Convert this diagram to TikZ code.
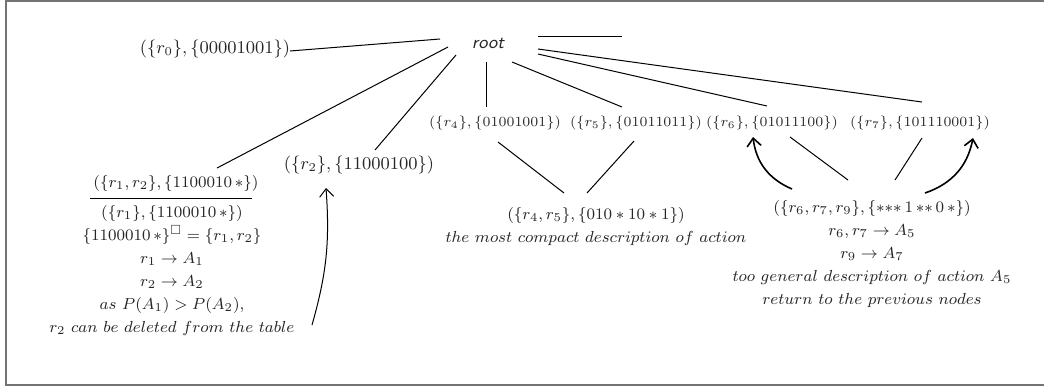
\documentclass[tikz,border=0pt]{standalone}
\usepackage{amsmath}
\usepackage{amssymb}
\usepackage{tikz}
\usetikzlibrary{arrows.meta,positioning}

\begin{document}
\begin{tikzpicture}[
    x=0.5pt, y=-0.5pt,
    node distance=40pt,
    >={Straight Barb[length=4pt,width=7pt]},
    font=\fontsize{8}{11.5}\selectfont,
    pair/.style={
		inner sep=0pt,
		text=black!85
	},
    bigpair/.style={
		pair,
		font=\fontsize{8.8}{11.5}\selectfont
	},
    midpair/.style={
		pair,
		font=\fontsize{7.2}{11.5}\selectfont
	},
    smallpair/.style={
		pair,
		font=\fontsize{7.2}{11.5}\selectfont
	},
    link/.style={
		line width=0.5pt
	},
    backarc/.style={
		->,
		line width=0.8pt
	},
    border/.style={
		draw=black!55,
		line width=1pt
	}
  ]
  \useasboundingbox (0,0) rectangle (1044,387);
  \draw [border] (1044,1) -- (6,1) -- (6,385) -- (1044,385);

    % We start by placing the blocks
  \node [pair, font=\sffamily\itshape\fontsize{9}{11}\selectfont] (root) at (488,43) {root};

  \node [bigpair, left of=root, xshift=-96.5pt, yshift=-3pt] (r0) {$(\{r_0\},\{00001001\})$};

  \node [midpair, below of=root, xshift=3.5pt] (r4) {$(\{r_4\},\{01001001\})$};
  \node [midpair, below of=root, xshift=74pt] (r5) {$(\{r_5\},\{01011011\})$};
  \node [smallpair, below of=root, xshift=142pt] (r6) {$(\{r_6\},\{01011100\})$};
  \node [smallpair, below of=root, xshift=216pt] (r7) {$(\{r_7\},\{101110001\})$};

  \node [bigpair, below of=r4, xshift=-68pt, yshift=19pt] (r2) {$(\{r_2\},\{11000100\})$};

  \node [pair, below of=r0, xshift=-19.5pt, yshift=-27pt] (r12) {$(\{r_1,r_2\},\{1100010\,{\ast}\})$};

  \node [pair, below of=r12, xshift=-2pt, yshift=-3.5pt] (r1)
 {%
 \begin{tabular}{c}
  $(\{r_1\},\{1100010\,{\ast}\})$\\
  $\{1100010\,{\ast}\}^{\square}=\{r_1,r_2\}$\\
  $r_1\rightarrow A_1$\\
  $r_2\rightarrow A_2$\\
  $as\ P(A_1)>P(A_2),$\\
  $r_2\ can\ be\ deleted\ from\ the\ table$
 \end{tabular}
 };

  \node [pair, below of=r5, xshift=-20pt, yshift=-11.5pt] (r45)
 {%
 \begin{tabular}{c}
  $(\{r_4,r_5\},\{010\ast10\ast1\})$\\
  $the\ most\ compact\ description\ of\ action$
 \end{tabular}
 };

  \node [pair, below of=r6, xshift=50pt, yshift=-25.5pt] (r679)
 {%
 \begin{tabular}{c}
  $(\{r_6,r_7,r_9\},\{{\ast}{\ast}{\ast}\,1\,{\ast}{\ast}\,0\,{\ast}\})$\\
  $r_6,r_7\rightarrow A_5$\\
  $r_9\rightarrow A_7$\\
  $too\ general\ description\ of\ action\ A_5$\\
  $return\ to\ the\ previous\ nodes$
 \end{tabular}
 };

  \coordinate [right of=root, xshift=27pt, yshift=3.5pt] (stub);

 \draw [link] ([shift={(75,2)}]r0.center) -- ([shift={(-48,-4)}]root.center);
 \draw [link] ([shift={(-40,4)}]root.center) -- ([shift={(41,-15)}]r12.center);
 \draw [link] ([shift={(-32,12)}]root.center) -- ([shift={(16,-15)}]r2.center);
 \draw [link] ([shift={(-2,19)}]root.center) -- ([shift={(-9,-16)}]r4.center);
 \draw [link] ([shift={(24,19)}]root.center) -- ([shift={(-14,-16)}]r5.center);
 \draw [link] ([shift={(50,11)}]root.center) -- ([shift={(-5,-17)}]r6.center);
 \draw [link] ([shift={(50,6)}]root.center) -- ([shift={(2,-21)}]r7.center);
 \draw [link] ([shift={(50,-7)}]root.center) -- (stub);

 \draw [link] ([shift={(-86,15)}]r12.center) -- ([shift={(76,15)}]r12.center);

 \draw [link] ([shift={(3,19)}]r4.center) -- ([shift={(-32,-33)}]r45.center);
 \draw [link] ([shift={(-2,18)}]r5.center) -- ([shift={(-9,-33)}]r45.center);
 \draw [link] ([shift={(18,14)}]r6.center) -- ([shift={(-24,-74)}]r679.center);
 \draw [link] ([shift={(2,15)}]r7.center) -- ([shift={(23,-74)}]r679.center);

 \draw [backarc] ([shift={(-80,-65)}]r679.center) to[bend left=30] ([shift={(-19,14)}]r6.center);
 \draw [backarc] ([shift={(53,-61)}]r679.center) to[bend right=30] ([shift={(53,15)}]r7.center);
 \draw [->, link] ([shift={(140,55)}]r1.center) to[bend right=10] ([shift={(-33,23)}]r2.center);

\end{tikzpicture}
\end{document}
